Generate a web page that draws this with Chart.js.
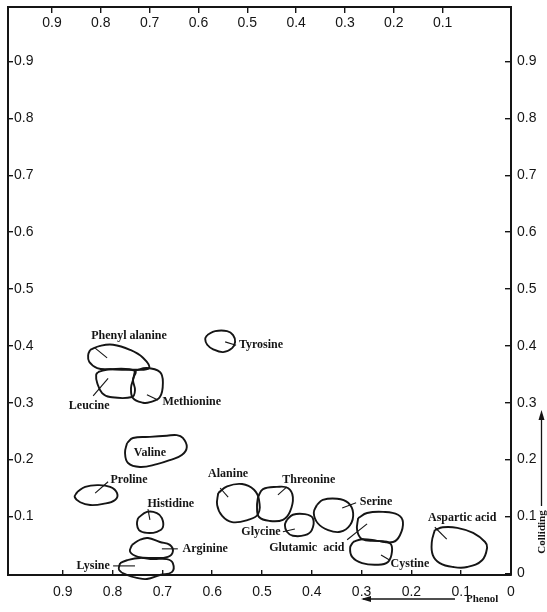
<!DOCTYPE html>
<html>
<head>
<meta charset="utf-8">
<title>Two-dimensional paper chromatogram of amino acids</title>
<script src="https://cdn.jsdelivr.net/npm/chart.js@4.4.1/dist/chart.umd.min.js"></script>
<style>
  html, body { margin: 0; padding: 0; background: #fff; }
  canvas { display: block; }
</style>
</head>
<body>
<canvas id="chromatogram" width="547" height="612"></canvas>
<script>
// ── DATA ─────────────────────────────────────────────────────────────
// Spot outlines as [Rf phenol, Rf collidine] pairs

const phenylalanine = [[0.845,0.393],[0.825,0.400],[0.799,0.402],[0.765,0.393],[0.739,0.379],[0.727,0.361],[0.759,0.358],[0.805,0.359],[0.831,0.361],[0.847,0.372],[0.849,0.384]]
const leucine = [[0.829,0.354],[0.805,0.359],[0.755,0.356],[0.759,0.340],[0.755,0.322],[0.761,0.310],[0.805,0.310],[0.821,0.317],[0.831,0.335],[0.833,0.349]]
const methionine = [[0.755,0.356],[0.731,0.361],[0.705,0.354],[0.699,0.336],[0.705,0.310],[0.725,0.301],[0.739,0.300],[0.759,0.308],[0.763,0.326],[0.759,0.340]]
const tyrosine = [[0.610,0.419],[0.594,0.426],[0.570,0.426],[0.558,0.419],[0.554,0.407],[0.560,0.396],[0.578,0.389],[0.598,0.394],[0.610,0.402],[0.614,0.412]]
const valine = [[0.771,0.229],[0.759,0.238],[0.725,0.240],[0.691,0.242],[0.671,0.243],[0.659,0.238],[0.651,0.222],[0.661,0.208],[0.685,0.199],[0.711,0.192],[0.745,0.187],[0.769,0.194],[0.775,0.212]]
const proline = [[0.871,0.143],[0.855,0.152],[0.831,0.155],[0.805,0.152],[0.791,0.141],[0.795,0.129],[0.819,0.122],[0.845,0.120],[0.865,0.125],[0.876,0.134]]
const histidine = [[0.749,0.097],[0.731,0.108],[0.711,0.106],[0.701,0.097],[0.699,0.081],[0.711,0.073],[0.731,0.071],[0.747,0.076],[0.751,0.087]]
const arginine = [[0.761,0.050],[0.745,0.059],[0.729,0.062],[0.705,0.055],[0.685,0.050],[0.679,0.038],[0.689,0.029],[0.719,0.027],[0.749,0.029],[0.765,0.038]]
const lysine = [[0.785,0.018],[0.771,0.023],[0.745,0.027],[0.719,0.025],[0.691,0.025],[0.679,0.018],[0.681,0.002],[0.705,-0.003],[0.731,-0.010],[0.751,-0.008],[0.771,-0.003],[0.787,0.006]]
const alanine = [[0.588,0.141],[0.570,0.153],[0.540,0.157],[0.516,0.147],[0.506,0.129],[0.508,0.104],[0.528,0.094],[0.560,0.090],[0.580,0.101],[0.590,0.120]]
const threonine = [[0.508,0.134],[0.498,0.148],[0.470,0.152],[0.448,0.150],[0.438,0.134],[0.444,0.108],[0.458,0.094],[0.484,0.092],[0.506,0.099],[0.510,0.117]]
const glycine = [[0.450,0.094],[0.438,0.103],[0.414,0.104],[0.398,0.097],[0.400,0.076],[0.414,0.067],[0.438,0.066],[0.450,0.073],[0.454,0.085]]
const serine = [[0.390,0.120],[0.378,0.129],[0.349,0.131],[0.327,0.124],[0.317,0.106],[0.323,0.085],[0.343,0.073],[0.367,0.076],[0.388,0.088],[0.396,0.106]]
const glutamicAcid = [[0.307,0.097],[0.289,0.106],[0.257,0.108],[0.227,0.103],[0.217,0.090],[0.223,0.067],[0.237,0.055],[0.269,0.057],[0.299,0.060],[0.309,0.076]]
const cystine = [[0.317,0.055],[0.299,0.060],[0.269,0.057],[0.243,0.053],[0.239,0.038],[0.247,0.020],[0.269,0.015],[0.299,0.018],[0.319,0.029],[0.323,0.045]]
const asparticAcid = [[0.153,0.076],[0.137,0.081],[0.108,0.080],[0.076,0.071],[0.052,0.055],[0.048,0.045],[0.058,0.023],[0.088,0.011],[0.116,0.011],[0.143,0.018],[0.157,0.032],[0.159,0.055]]

const spotOutlines = [phenylalanine, leucine, methionine, tyrosine, valine, proline, histidine, arginine,
  lysine, alanine, threonine, glycine, serine, glutamicAcid, cystine, asparticAcid]

// label text, where it sits, and the little pointer line into its spot
const labelNames = ["Phenyl alanine", "Leucine", "Methionine", "Tyrosine", "Valine", "Proline", "Histidine", "Arginine",
  "Lysine", "Alanine", "Threonine", "Glycine", "Serine", "Glutamic  acid", "Cystine", "Aspartic acid"]
const labelX = [0.767, 0.847, 0.641, 0.502, 0.725, 0.767, 0.683, 0.614, 0.839, 0.568, 0.406, 0.502, 0.271, 0.410, 0.203, 0.098]
const labelY = [0.417, 0.294, 0.301, 0.401, 0.212, 0.164, 0.122, 0.043, 0.013, 0.175, 0.164, 0.073, 0.125, 0.045, 0.016, 0.097]
const leaderFrom = [[0.835,0.396],[0.839,0.312],[0.709,0.305],[0.552,0.401], null,[0.809,0.161],[0.729,0.113],[0.669,0.043],
  [0.799,0.013],[0.584,0.150],[0.450,0.152],[0.458,0.073],[0.311,0.124],[0.329,0.059],[0.243,0.023],[0.153,0.081]]
const leaderTo = [[0.811,0.379],[0.809,0.343],[0.731,0.314],[0.574,0.407], null,[0.835,0.141],[0.725,0.094],[0.701,0.043],
  [0.755,0.013],[0.568,0.134],[0.468,0.138],[0.434,0.078],[0.339,0.115],[0.289,0.087],[0.261,0.032],[0.129,0.060]]

// tick labels on each side of the frame
const phenolTicks = [0, 0.1, 0.2, 0.3, 0.4, 0.5, 0.6, 0.7, 0.8, 0.9]
const topTicks = [0.1, 0.2, 0.3, 0.4, 0.5, 0.6, 0.7, 0.8, 0.9]
const leftTicks = [0.1, 0.2, 0.3, 0.4, 0.5, 0.6, 0.7, 0.8, 0.9]
const rightTicks = [0, 0.1, 0.2, 0.3, 0.4, 0.5, 0.6, 0.7, 0.8, 0.9]

// ── CHART ────────────────────────────────────────────────────────────

const INK = "#151515"
const tickFont = { family: "Liberation Sans", size: 14 }
const fmt = v => v === 0 ? "0" : v.toFixed(1)
const useTicks = list => s => { s.ticks = list.map(v => ({ value: v })) }
// fixed box sizes, and no extra room for half-labels at the ends
const fixSize = (w, h) => s => {
  if (w !== null) s.width = w
  if (h !== null) s.height = h
  s.paddingTop = s.paddingBottom = s.paddingLeft = s.paddingRight = 0
}

const toPts = arr => arr.map(p => ({ x: p[0], y: p[1] }))

const datasets = spotOutlines.map((o, i) => ({
  label: labelNames[i],
  data: toPts(o.concat([o[0]])),
  borderColor: INK,
  borderWidth: 1.9,
  tension: 0.42,
  pointRadius: 0,
  fill: false,
  clip: false
}))

leaderFrom.forEach((f, i) => {
  if (!f) return
  datasets.push({
    label: labelNames[i] + " pointer",
    data: toPts([f, leaderTo[i]]),
    borderColor: INK,
    borderWidth: 1.1,
    pointRadius: 0,
    clip: false
  })
})

const annotations = {
  id: "annotations",
  afterDatasetsDraw(chart) {
    const { ctx, scales: { x, y }, chartArea: a } = chart
    ctx.save()
    ctx.fillStyle = INK
    ctx.strokeStyle = INK
    ctx.font = 'bold 12px "Liberation Serif"'
    ctx.textAlign = "center"
    ctx.textBaseline = "middle"
    labelNames.forEach((name, i) => {
      ctx.fillText(name, x.getPixelForValue(labelX[i]), y.getPixelForValue(labelY[i]))
    })

    // solvent directions
    ctx.font = 'bold 11px "Liberation Serif"'
    ctx.textAlign = "left"
    ctx.fillText("Phenol", a.right - 45, 599)
    ctx.lineWidth = 1.3
    ctx.beginPath()
    ctx.moveTo(a.right - 56, 599)
    ctx.lineTo(a.right - 148, 599)
    ctx.stroke()
    ctx.beginPath()
    ctx.moveTo(a.right - 150, 599)
    ctx.lineTo(a.right - 140, 596)
    ctx.lineTo(a.right - 140, 602)
    ctx.closePath()
    ctx.fill()

    ctx.save()
    ctx.translate(542, 532)
    ctx.rotate(-Math.PI / 2)
    ctx.textAlign = "center"
    ctx.fillText("Colliding", 0, 0)
    ctx.restore()
    ctx.beginPath()
    ctx.moveTo(541.5, 506)
    ctx.lineTo(541.5, 414)
    ctx.stroke()
    ctx.beginPath()
    ctx.moveTo(541.5, 410)
    ctx.lineTo(538.5, 420)
    ctx.lineTo(544.5, 420)
    ctx.closePath()
    ctx.fill()
    ctx.restore()
  }
}

const frameGrid = len => ({ drawOnChartArea: false, tickLength: len, color: INK, lineWidth: 1.4 })
const frameBorder = { color: INK, width: 2 }

new Chart(document.getElementById("chromatogram"), {
  type: "line",
  data: { datasets },
  plugins: [annotations],
  options: {
    responsive: false,
    animation: false,
    layout: { padding: { left: 8, top: 7, right: 0, bottom: 0 } },
    plugins: { legend: { display: false }, tooltip: { enabled: false } },
    scales: {
      x: {
        type: "linear", position: "bottom", reverse: true, min: 0, max: 1.01,
        afterBuildTicks: useTicks(phenolTicks),
        afterFit: fixSize(null, 37),
        grid: frameGrid(-5), border: frameBorder,
        ticks: { font: tickFont, color: INK, padding: 14, maxRotation: 0, autoSkip: false, callback: fmt }
      },
      x2: {
        type: "linear", position: "top", reverse: true, min: -0.04, max: 0.99,
        afterBuildTicks: useTicks(topTicks),
        afterFit: fixSize(null, 0),
        grid: frameGrid(-6), border: frameBorder,
        ticks: { font: tickFont, color: INK, mirror: true, padding: 8, maxRotation: 0, autoSkip: false, callback: fmt }
      },
      y: {
        type: "linear", position: "left", min: -0.003, max: 0.996,
        afterBuildTicks: useTicks(leftTicks),
        afterFit: fixSize(0, null),
        grid: frameGrid(-5), border: frameBorder,
        ticks: { font: tickFont, color: INK, mirror: true, padding: 6, autoSkip: false, callback: fmt }
      },
      y2: {
        type: "linear", position: "right", min: -0.003, max: 0.996,
        afterBuildTicks: useTicks(rightTicks),
        afterFit: fixSize(36, null),
        grid: frameGrid(-6), border: frameBorder,
        ticks: { font: tickFont, color: INK, padding: 12, autoSkip: false, callback: fmt }
      }
    }
  }
})
</script>
</body>
</html>
